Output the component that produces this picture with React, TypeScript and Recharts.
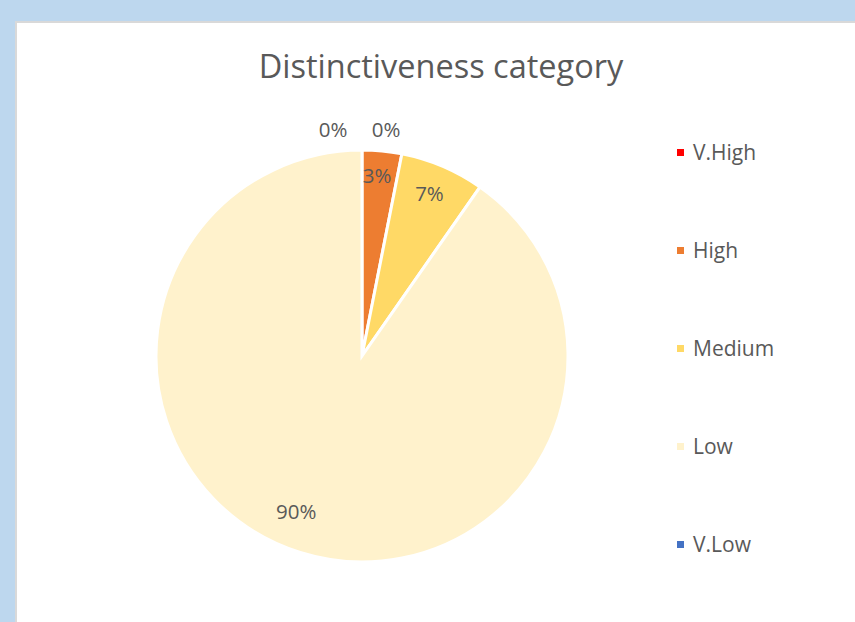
import { PieChart, Pie, Cell, Legend } from "recharts";

const categories = ["V.High", "High", "Medium", "Low", "V.Low"];
const shares = [0, 3.1, 6.6, 90.3, 0];
const labels = ["0%", "3%", "7%", "90%", "0%"];
const colors = ["#FF0000", "#ED7D31", "#FFD966", "#FFF2CC", "#4472C4"];

const data = categories.map((name, i) => ({ name, value: shares[i], label: labels[i] }));

const FONT = "'Open Sans', 'Noto Sans', sans-serif";
const TEXT = "#595959";
const RAD = Math.PI / 180;

// where each inside label sits: fraction of the radius, and a small angle nudge
const labelRadius = [1, 0.88, 0.858, 0.816, 1];
const labelNudge = [0, 0.8, 0.6, -5.6, 0];

function renderLabel(props: any) {
  const { cx, cy, midAngle, outerRadius, index } = props;
  let x: number;
  let y: number;
  if (shares[index] === 0) {
    // zero slices sit above the top of the pie, one on each side
    x = cx + (index === 0 ? -29 : 24);
    y = cy - outerRadius - 21;
  } else {
    const r = outerRadius * labelRadius[index];
    const a = (midAngle + labelNudge[index]) * RAD;
    x = cx + r * Math.cos(-a);
    y = cy + r * Math.sin(-a);
  }
  return (
    <text
      key={`lbl-${index}`}
      x={x}
      y={y}
      textAnchor="middle"
      dominantBaseline="central"
      fill={TEXT}
      fontSize={20.5}
      fontFamily={FONT}
    >
      {labels[index]}
    </text>
  );
}

function LegendBox() {
  return (
    <div style={{ fontFamily: FONT }}>
      {categories.map((c, i) => (
        <div
          key={c}
          style={{ height: 98, display: "flex", alignItems: "center", color: TEXT, fontSize: 21 }}
        >
          <span
            style={{ width: 7, height: 7, background: colors[i], display: "inline-block", marginRight: 9 }}
          />
          {c}
        </div>
      ))}
    </div>
  );
}

export default function App() {
  return (
    <div style={{ position: "fixed", left: 0, top: 0, width: 855, height: 622, background: "#BDD7EE", overflow: "hidden" }}>
      <div
        style={{
          position: "absolute",
          left: 15,
          top: 21,
          width: 850,
          height: 610,
          background: "#fff",
          border: "2px solid #D9D9D9",
        }}
      >
        <div
          style={{
            position: "absolute",
            left: 0,
            width: 848,
            top: 27,
            textAlign: "center",
            fontFamily: FONT,
            fontSize: 32.5,
            lineHeight: 1,
            color: TEXT,
            whiteSpace: "nowrap",
          }}
        >
          Distinctiveness category
        </div>
        <PieChart width={840} height={600} margin={{ top: 0, right: 0, bottom: 0, left: 0 }}>
          <Pie
            data={data}
            dataKey="value"
            nameKey="name"
            cx={345}
            cy={333}
            outerRadius={206}
            startAngle={90}
            endAngle={-270}
            stroke="#fff"
            strokeWidth={3}
            label={renderLabel}
            labelLine={false}
            isAnimationActive={false}
          >
            {data.map((d, i) => (
              <Cell key={d.name} fill={colors[i]} />
            ))}
          </Pie>
          <Legend
            layout="vertical"
            content={() => <LegendBox />}
            wrapperStyle={{ left: 660, top: 80, width: 170 }}
          />
        </PieChart>
      </div>
    </div>
  );
}
